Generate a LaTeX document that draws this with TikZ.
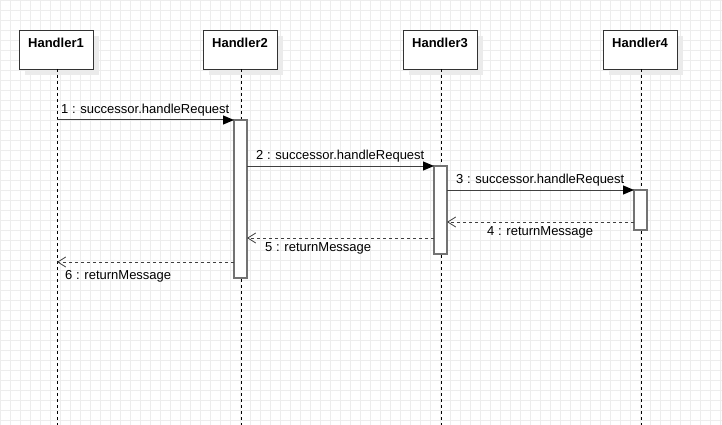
\documentclass[tikz,border=0pt]{standalone}
\usepackage{fontspec}
\setmainfont{Liberation Sans}
\usetikzlibrary{arrows.meta}
\begin{document}
\begin{tikzpicture}[x=1pt,y=-1pt,
  objbox/.style={draw=black!80,fill=white,line width=0.9pt},
  shadowbox/.style={fill=black!8,draw=none},
  life/.style={draw=black,line width=0.8pt,dash pattern=on 3pt off 3pt},
  actbox/.style={draw=black!55,fill=white,line width=1.4pt,outer sep=0pt},
  callmsg/.style={draw=black!75,line width=1pt,-{Triangle[length=11pt,width=9pt,color=black,fill=black]}},
  retmsg/.style={draw=black!75,line width=1pt,dash pattern=on 3pt off 3pt,-{Straight Barb[length=8pt,width=10pt,line width=0.8pt]}},
  lbl/.style={font=\fontsize{13}{15}\selectfont,inner sep=0pt,anchor=west},
  head/.style={font=\fontsize{13}{15}\selectfont\bfseries,inner sep=0pt},
  gridline/.style={draw=black!7,line width=0.7pt}]
\useasboundingbox (0,0) rectangle (722,425);
\fill[white] (0,0) rectangle (722,425);
\foreach \gx in {0,10,...,720} \draw[gridline] (\gx,0) -- (\gx,425);
\foreach \gy in {0,10,...,420} \draw[gridline] (0,\gy) -- (722,\gy);
% objects
\foreach \n/\x in {1/19,2/203,3/403,4/603}{
  \fill[shadowbox] (\x+6,36) rectangle (\x+80,75);
  \node[objbox,minimum width=74pt,minimum height=39pt,inner sep=0pt,anchor=north west] (h\n) at (\x,30) {};
  \node[head] (t\n) at (\x+37,43) {Handler\n};
}
\coordinate (l1e) at (57,425);
\coordinate (l2e) at (241,425);
\coordinate (l3e) at (441,425);
\coordinate (l4e) at (641,425);
\draw[life] (57,69) -- (l1e);
\draw[life] (241,69) -- (l2e);
\draw[life] (441,69) -- (l3e);
\draw[life] (641,69) -- (l4e);
% activations
\node[actbox,minimum width=13pt,minimum height=158pt,inner sep=0pt,anchor=north west] (a2) at (234,120) {};
\node[actbox,minimum width=13pt,minimum height=88pt,inner sep=0pt,anchor=north west] (a3) at (434,166) {};
\node[actbox,minimum width=13pt,minimum height=40pt,inner sep=0pt,anchor=north west] (a4) at (634,190) {};
% message levels
\coordinate (y4) at (0,222);
\coordinate (y5) at (0,238);
\coordinate (m6e) at (57,262);
\coordinate (m1s) at (57,120);
% messages
\draw[callmsg] (m1s) -- (a2.north west);
\node[lbl] (L1) at (61,110) {1 : successor.handleRequest};
\draw[callmsg] (a2.east |- a3.north) -- (a3.north west);
\node[lbl] (L2) at (256,156) {2 : successor.handleRequest};
\draw[callmsg] (a3.east |- a4.north) -- (a4.north west);
\node[lbl] (L3) at (456,180) {3 : successor.handleRequest};
\draw[retmsg] (a4.west |- y4) -- (a3.east |- y4);
\node[lbl] (L4) at (487,232) {4 : returnMessage};
\draw[retmsg] (a3.west |- y5) -- (a2.east |- y5);
\node[lbl] (L5) at (265,248) {5 : returnMessage};
\draw[retmsg] (a2.west |- m6e) -- (m6e);
\node[lbl] (L6) at (65,276) {6 : returnMessage};
\end{tikzpicture}
\end{document}
